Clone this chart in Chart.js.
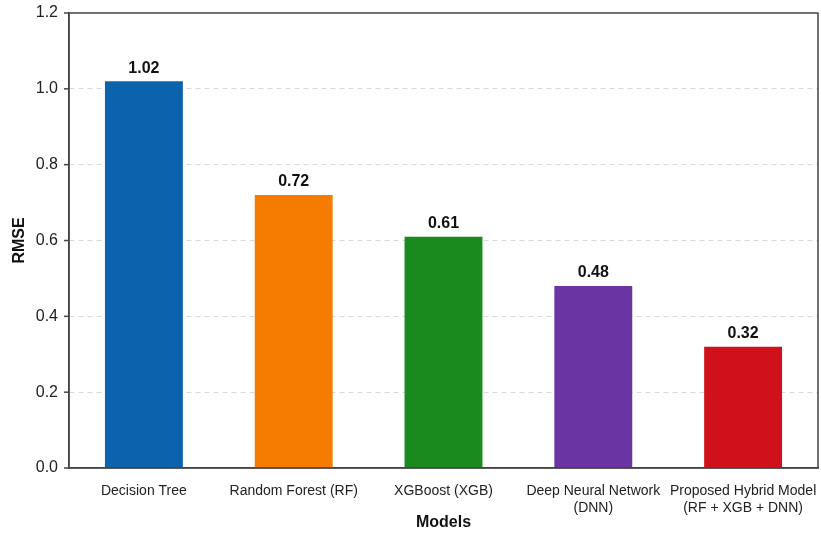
<!DOCTYPE html>
<html>
<head>
<meta charset="utf-8">
<script src="https://cdn.jsdelivr.net/npm/chart.js@4"></script>
<style>
  html, body { margin: 0; padding: 0; background: #fff; }
  #wrap { width: 821px; height: 533px; }
</style>
</head>
<body>
<div id="wrap"><canvas id="rmse"></canvas></div>
<script>
var models = ['Decision Tree', 'Random Forest (RF)', 'XGBoost (XGB)', ['Deep Neural Network', '(DNN)'], ['Proposed Hybrid Model', '(RF + XGB + DNN)']];
var rmse = [1.02, 0.72, 0.61, 0.48, 0.32];
var barColors = ['#0b63ad', '#f57c00', '#1a8a1f', '#6a34a2', '#d0111b'];
var yTicks = [0, 0.2, 0.4, 0.6, 0.8, 1.0, 1.2];

// value labels above each bar
var valueLabels = {
    id: 'valueLabels',
    afterDatasetsDraw(chart) {
        var ctx = chart.ctx;
        var meta = chart.getDatasetMeta(0);
        ctx.save();
        ctx.font = 'bold 16px "Liberation Sans", Arial, sans-serif';
        ctx.fillStyle = '#111';
        ctx.textAlign = 'center';
        ctx.textBaseline = 'bottom';
        meta.data.forEach(function (bar, i) {
            ctx.fillText(rmse[i].toFixed(2), bar.x, bar.y - 5);
        });
        ctx.restore();
    }
};

var ctx = document.getElementById('rmse').getContext('2d');
var chart = new Chart(ctx, {
    type: 'bar',
    data: {
        labels: models,
        datasets: [{
            data: rmse,
            backgroundColor: barColors,
            borderWidth: 0,
            barPercentage: 0.52,
            categoryPercentage: 1
        }]
    },
    options: {
        responsive: true,
        maintainAspectRatio: false,
        animation: false,
        layout: { padding: { top: 0, right: 3, left: 10, bottom: 0 } },
        plugins: {
            legend: { display: false },
            tooltip: { enabled: false }
        },
        scales: {
            x: {
                afterFit: function (s) { s.height = 65; s.paddingRight = 0; s.paddingLeft = 0; },
                grid: { display: false, drawTicks: true, tickLength: 5, tickColor: '#444' },
                border: { display: true, color: '#444', width: 1.5 },
                ticks: {
                    color: '#222',
                    font: { family: '"Liberation Sans", Arial, sans-serif', size: 14 },
                    maxRotation: 0,
                    autoSkip: false,
                    padding: 10
                },
                title: {
                    display: true,
                    text: 'Models',
                    color: '#111',
                    font: { family: '"Liberation Sans", Arial, sans-serif', size: 16, weight: 'bold' },
                    padding: { top: 0, bottom: 1 }
                }
            },
            y: {
                min: 0,
                max: 1.2,
                afterFit: function (s) { s.width = 59; s.paddingTop = 13; },
                afterBuildTicks: function (axis) {
                    axis.ticks = yTicks.map(function (v) { return { value: v }; });
                },
                grid: {
                    color: function (c) { return (c.tick && (c.tick.value === 0 || c.tick.value === 1.2)) ? 'rgba(0,0,0,0)' : '#d8d8d8'; },
                    lineWidth: 1,
                    drawTicks: false
                },
                border: { display: true, color: '#444', width: 1.5, dash: [5, 4] },
                ticks: {
                    color: '#222',
                    font: { family: '"Liberation Sans", Arial, sans-serif', size: 16 },
                    padding: 11,
                    callback: function (v) { return v.toFixed(1); }
                },
                title: {
                    display: true,
                    text: 'RMSE',
                    color: '#111',
                    font: { family: '"Liberation Sans", Arial, sans-serif', size: 16, weight: 'bold' },
                    padding: { top: 0, bottom: 8 }
                }
            }
        }
    },
    plugins: [valueLabels, {
        id: 'frame',
        afterDraw(chart) {
            var a = chart.chartArea, c = chart.ctx;
            c.save();
            c.strokeStyle = '#444';
            c.lineWidth = 1.5;
            c.strokeRect(a.left, a.top, a.right - a.left, a.bottom - a.top);
            // outward ticks on y axis
            var ys = chart.scales.y;
            yTicks.forEach(function (v) {
                var y = ys.getPixelForValue(v);
                c.beginPath();
                c.moveTo(a.left - 5, y);
                c.lineTo(a.left, y);
                c.stroke();
            });
            c.restore();
        }
    }]
});
</script>
</body>
</html>
